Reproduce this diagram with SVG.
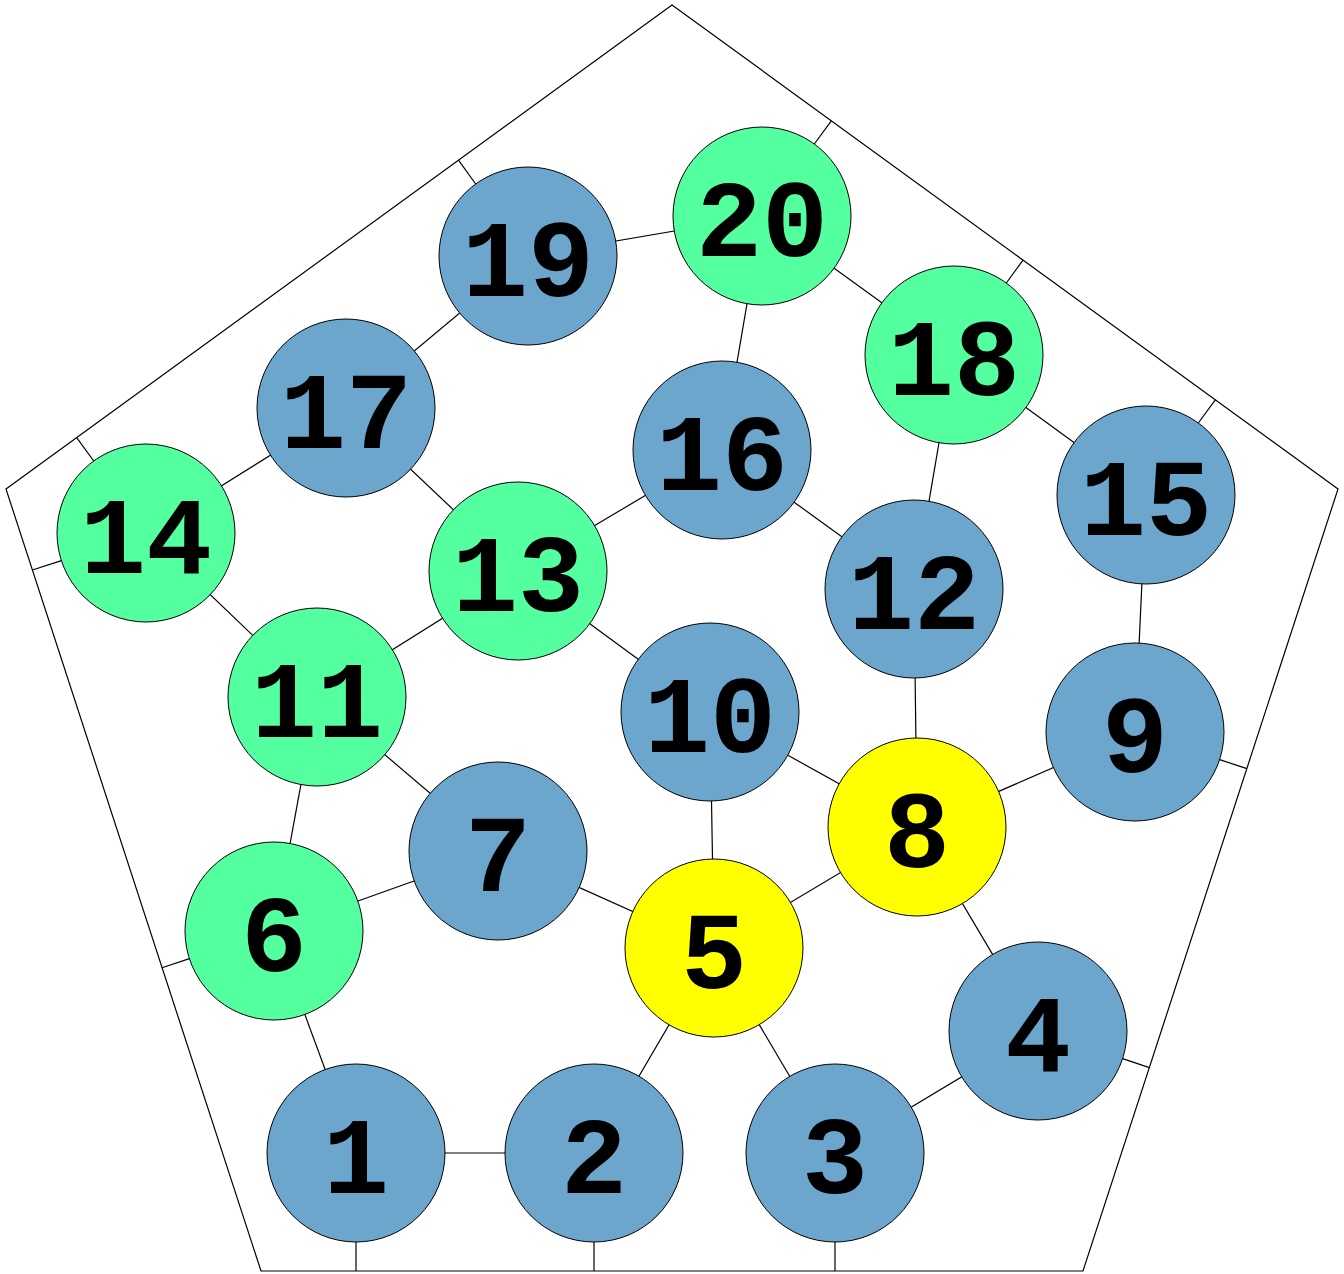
<svg xmlns="http://www.w3.org/2000/svg" width="1344" height="1274" viewBox="0 0 1344 1274">
<style>
.e{stroke:#000;stroke-width:1.2;fill:none}
.n circle{stroke:#000;stroke-width:1}
.b{fill:#6ca6cd}.g{fill:#54ff9f}.y{fill:#ffff00}
.n text{font-family:"Liberation Mono","Courier New",monospace;font-weight:bold;font-size:110px;text-anchor:middle;fill:#000}
</style>
<rect width="1344" height="1274" fill="#fff"/>
<polygon points="672,5 1338,489 1083,1271 261,1271 6,489" fill="none" stroke="#000" stroke-width="1.2"/>
<g id="connectors">
<line class="e" x1="356" y1="1153" x2="594" y2="1153"/>
<line class="e" x1="356" y1="1153" x2="274" y2="931"/>
<line class="e" x1="594" y1="1153" x2="714" y2="948"/>
<line class="e" x1="835" y1="1153" x2="714" y2="948"/>
<line class="e" x1="835" y1="1153" x2="1038" y2="1031"/>
<line class="e" x1="1038" y1="1031" x2="917" y2="827"/>
<line class="e" x1="714" y1="948" x2="917" y2="827"/>
<line class="e" x1="714" y1="948" x2="498" y2="851"/>
<line class="e" x1="714" y1="948" x2="710" y2="712"/>
<line class="e" x1="274" y1="931" x2="498" y2="851"/>
<line class="e" x1="274" y1="931" x2="317" y2="697"/>
<line class="e" x1="498" y1="851" x2="317" y2="697"/>
<line class="e" x1="917" y1="827" x2="1135" y2="732"/>
<line class="e" x1="917" y1="827" x2="710" y2="712"/>
<line class="e" x1="917" y1="827" x2="914" y2="589"/>
<line class="e" x1="1135" y1="732" x2="1146" y2="495"/>
<line class="e" x1="710" y1="712" x2="518" y2="571"/>
<line class="e" x1="317" y1="697" x2="518" y2="571"/>
<line class="e" x1="317" y1="697" x2="146" y2="533"/>
<line class="e" x1="914" y1="589" x2="722" y2="450"/>
<line class="e" x1="914" y1="589" x2="954" y2="355"/>
<line class="e" x1="518" y1="571" x2="722" y2="450"/>
<line class="e" x1="518" y1="571" x2="346" y2="408"/>
<line class="e" x1="146" y1="533" x2="346" y2="408"/>
<line class="e" x1="722" y1="450" x2="762" y2="216"/>
<line class="e" x1="346" y1="408" x2="528" y2="256"/>
<line class="e" x1="954" y1="355" x2="762" y2="216"/>
<line class="e" x1="954" y1="355" x2="1146" y2="495"/>
<line class="e" x1="528" y1="256" x2="762" y2="216"/>
<line class="e" x1="356" y1="1242" x2="356" y2="1271"/>
<line class="e" x1="594" y1="1242" x2="594" y2="1271"/>
<line class="e" x1="835" y1="1242" x2="835" y2="1271"/>
<line class="e" x1="1122.6" y1="1058.6" x2="1149.4" y2="1067.6"/>
<line class="e" x1="1219.6" y1="759.6" x2="1246.9" y2="768.6"/>
<line class="e" x1="1198.3" y1="423" x2="1215.3" y2="399.9"/>
<line class="e" x1="1006.3" y1="283" x2="1023" y2="260.1"/>
<line class="e" x1="814.3" y1="144" x2="831.3" y2="120.8"/>
<line class="e" x1="475.7" y1="184" x2="458.5" y2="160.1"/>
<line class="e" x1="93.7" y1="461" x2="76.7" y2="437.6"/>
<line class="e" x1="61.4" y1="560.6" x2="32.4" y2="570"/>
<line class="e" x1="189.4" y1="958.6" x2="162" y2="967.7"/>
</g>
<g id="node1" class="n"><circle class="b" cx="356" cy="1153" r="89"/><text x="356" y="1193">1</text></g>
<g id="node2" class="n"><circle class="b" cx="594" cy="1153" r="89"/><text x="594" y="1193">2</text></g>
<g id="node3" class="n"><circle class="b" cx="835" cy="1153" r="89"/><text x="835" y="1193">3</text></g>
<g id="node4" class="n"><circle class="b" cx="1038" cy="1031" r="89"/><text x="1038" y="1071">4</text></g>
<g id="node5" class="n"><circle class="y" cx="714" cy="948" r="89"/><text x="714" y="988">5</text></g>
<g id="node6" class="n"><circle class="g" cx="274" cy="931" r="89"/><text x="274" y="971">6</text></g>
<g id="node7" class="n"><circle class="b" cx="498" cy="851" r="89"/><text x="498" y="891">7</text></g>
<g id="node8" class="n"><circle class="y" cx="917" cy="827" r="89"/><text x="917" y="867">8</text></g>
<g id="node9" class="n"><circle class="b" cx="1135" cy="732" r="89"/><text x="1135" y="772">9</text></g>
<g id="node10" class="n"><circle class="b" cx="710" cy="712" r="89"/><text x="710" y="752">10</text></g>
<g id="node11" class="n"><circle class="g" cx="317" cy="697" r="89"/><text x="317" y="737">11</text></g>
<g id="node12" class="n"><circle class="b" cx="914" cy="589" r="89"/><text x="914" y="629">12</text></g>
<g id="node13" class="n"><circle class="g" cx="518" cy="571" r="89"/><text x="518" y="611">13</text></g>
<g id="node14" class="n"><circle class="g" cx="146" cy="533" r="89"/><text x="146" y="573">14</text></g>
<g id="node15" class="n"><circle class="b" cx="1146" cy="495" r="89"/><text x="1146" y="535">15</text></g>
<g id="node16" class="n"><circle class="b" cx="722" cy="450" r="89"/><text x="722" y="490">16</text></g>
<g id="node17" class="n"><circle class="b" cx="346" cy="408" r="89"/><text x="346" y="448">17</text></g>
<g id="node18" class="n"><circle class="g" cx="954" cy="355" r="89"/><text x="954" y="395">18</text></g>
<g id="node19" class="n"><circle class="b" cx="528" cy="256" r="89"/><text x="528" y="296">19</text></g>
<g id="node20" class="n"><circle class="g" cx="762" cy="216" r="89"/><text x="762" y="256">20</text></g>
</svg>
